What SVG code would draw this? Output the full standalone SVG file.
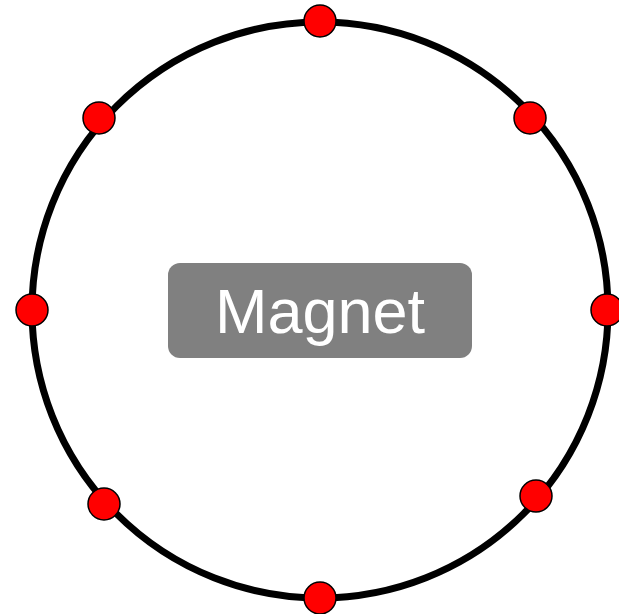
<svg xmlns="http://www.w3.org/2000/svg" width="619" height="614" viewBox="0 0 619 614">
<style>
.ring{fill:none;stroke:#000;stroke-width:7}
.dot{fill:#ff0000;stroke:#000;stroke-width:1.5}
.box{fill:#808080}
.lbl{font-family:"Liberation Sans",Arial,sans-serif;font-size:63px;fill:#fff;text-anchor:middle}
</style>
<rect width="619" height="614" fill="#fff"/>
<g id="connectors">
<circle class="ring" cx="320" cy="310" r="288"/>
</g>
<g id="magnet">
<rect class="box" x="168" y="263" width="304" height="95" rx="12"/>
<text class="lbl" x="320" y="333">Magnet</text>
</g>
<g id="n1"><circle class="dot" cx="320" cy="21" r="16"/></g>
<g id="n2"><circle class="dot" cx="530" cy="118" r="16"/></g>
<g id="n3"><circle class="dot" cx="607" cy="310" r="16"/></g>
<g id="n4"><circle class="dot" cx="536" cy="496" r="16"/></g>
<g id="n5"><circle class="dot" cx="320" cy="598" r="16"/></g>
<g id="n6"><circle class="dot" cx="104" cy="504" r="16"/></g>
<g id="n7"><circle class="dot" cx="32" cy="310" r="16"/></g>
<g id="n8"><circle class="dot" cx="99" cy="118" r="16"/></g>
</svg>
